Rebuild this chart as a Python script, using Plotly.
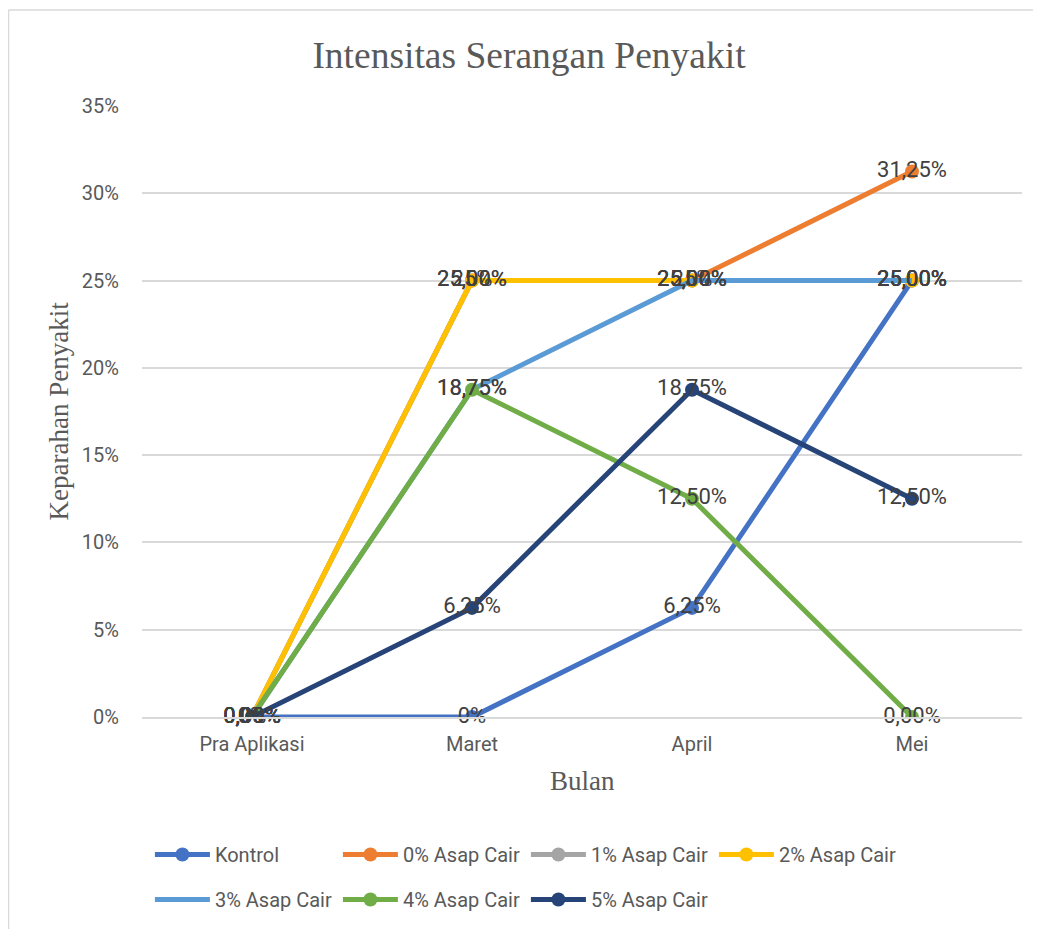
import plotly.graph_objects as go

months = ["Pra Aplikasi", "Maret", "April", "Mei"]

series_names = ["Kontrol", "0% Asap Cair", "1% Asap Cair", "2% Asap Cair",
                "3% Asap Cair", "4% Asap Cair", "5% Asap Cair"]

kontrol = [0, 0, 6.25, 25]
asap0 = [0, 25, 25, 31.25]
asap1 = [0, 25, 25, 25]
asap2 = [0, 25, 25, 25]
asap3 = [0, 18.75, 25, 25]
asap4 = [0, 18.75, 12.5, 0]
asap5 = [0, 6.25, 18.75, 12.5]

lbl_kontrol = ["0%", "0%", "6,25%", "25,00%"]
lbl_asap0 = ["0,00%", "25,00%", "25,00%", "31,25%"]
lbl_asap1 = ["0%", "25%", "25%", "25,00%"]
lbl_asap2 = ["0,00%", "25,00%", "25,00%", "25,00%"]
lbl_asap3 = ["0,00%", "18,75%", "25,00%", "25,00%"]
lbl_asap4 = ["0,00%", "18,75%", "12,50%", "0,00%"]
lbl_asap5 = ["0,00%", "6,25%", "18,75%", "12,50%"]

ytick_vals = [0, 5, 10, 15, 20, 25, 30, 35]
ytick_text = ["0%", "5%", "10%", "15%", "20%", "25%", "30%", "35%"]

values = [kontrol, asap0, asap1, asap2, asap3, asap4, asap5]
labels = [lbl_kontrol, lbl_asap0, lbl_asap1, lbl_asap2, lbl_asap3, lbl_asap4, lbl_asap5]
colors = ["#4472C4", "#ED7D31", "#A5A5A5", "#FFC000", "#5B9BD5", "#70AD47", "#264478"]
has_marker = [True, True, True, True, False, True, True]
legend_ids = ["legend", "legend", "legend", "legend", "legend2", "legend2", "legend2"]

# figure-frame geometry (page body adds an 8px offset)
L, R, T, B = 134, 27, 98, 220
PW = 1041 - L - R
PH = 929 - T - B
bottom = 929 - B

def py(fig_y):
    return (bottom - fig_y) / PH

def px(fig_x):
    return (fig_x - L) / PW

fig = go.Figure()
for name, vals, col, mk, lg in zip(series_names, values, colors, has_marker, legend_ids):
    fig.add_trace(go.Scatter(
        x=months, y=vals, name=name, legend=lg,
        mode="lines+markers" if mk else "lines",
        line=dict(color=col, width=5),
        marker=dict(size=14, color=col),
        hoverinfo="skip",
    ))
for vals, lbls in zip(values, labels):
    fig.add_trace(go.Scatter(
        x=months, y=vals, text=lbls, mode="text", showlegend=False,
        textposition="middle center", cliponaxis=False,
        textfont=dict(family="Roboto", size=22, color="#404040"),
        hoverinfo="skip",
    ))

legend_common = dict(orientation="h", xanchor="left", yanchor="top",
                     entrywidth=118, entrywidthmode="pixels", itemwidth=55,
                     font=dict(family="Roboto", size=20, color="#595959"),
                     bgcolor="rgba(0,0,0,0)")

fig.update_layout(
    width=1041, height=929,
    paper_bgcolor="white", plot_bgcolor="white",
    margin=dict(l=L, r=R, t=T, b=B, autoexpand=False),
    title=dict(text="Intensitas Serangan Penyakit", xref="container",
               x=521 / 1041, xanchor="center", y=1 - 47 / 929, yanchor="middle",
               font=dict(family="Liberation Serif", size=37.5, color="#595959")),
    xaxis=dict(type="category", range=[-0.5, 3.5], showgrid=False,
               showline=True, linecolor="#D9D9D9", linewidth=1.5, ticks="",
               tickfont=dict(family="Roboto", size=20, color="#595959"),
               ticklabelstandoff=8),
    yaxis=dict(range=[0, 35], tickvals=ytick_vals, ticktext=ytick_text,
               showgrid=True, gridcolor="#D9D9D9", gridwidth=1.5, zeroline=False,
               ticks="", ticklabelstandoff=22,
               tickfont=dict(family="Roboto", size=20, color="#595959")),
    legend=dict(x=0.009, y=py(827), **legend_common),
    legend2=dict(x=0.009, y=py(872), **legend_common),
    annotations=[
        dict(text="Keparahan Penyakit", xref="paper", yref="paper",
             x=px(50), y=0.5, textangle=-90, showarrow=False,
             xanchor="center", yanchor="middle",
             font=dict(family="Liberation Serif", size=27, color="#595959")),
        dict(text="Bulan", xref="paper", yref="paper",
             x=px(574), y=py(773), showarrow=False,
             xanchor="center", yanchor="middle",
             font=dict(family="Liberation Serif", size=27, color="#595959")),
    ],
    shapes=[
        dict(type="line", xref="paper", yref="paper",
             x0=px(0.5), x1=px(1045), y0=py(2), y1=py(2),
             line=dict(color="#D9D9D9", width=1.5)),
        dict(type="line", xref="paper", yref="paper",
             x0=px(0.5), x1=px(0.5), y0=py(2), y1=py(935),
             line=dict(color="#D9D9D9", width=1.5)),
    ],
)

fig.write_html("out.html")
